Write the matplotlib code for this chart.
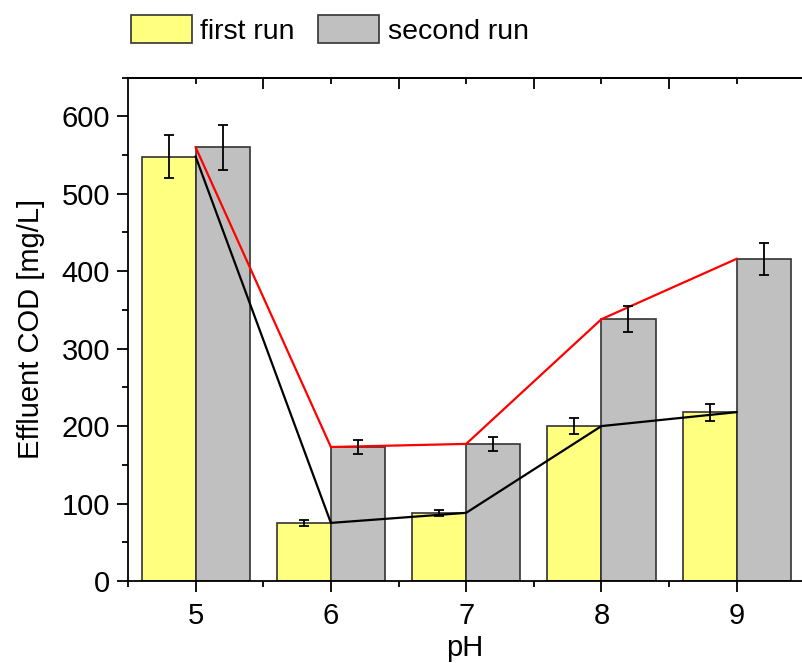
import numpy as np
import matplotlib.pyplot as plt
from matplotlib.ticker import MultipleLocator, FixedLocator

plt.rcParams['font.family'] = ['Liberation Sans', 'DejaVu Sans']

ph = [5, 6, 7, 8, 9]
first_run = [548, 75, 88, 200, 218]
first_err = [28, 4, 4, 10, 11]
second_run = [560, 173, 177, 338, 416]
second_err = [29, 9, 9, 17, 21]

fig = plt.figure(figsize=(8.02, 6.63), dpi=100)
ax = fig.add_axes([0.1596, 0.1237, 0.8404, 0.7593])

x = np.array(ph, dtype=float)
w = 0.4
b1 = ax.bar(x - w / 2, first_run, w, color='#FFFF80', edgecolor='#333333',
            linewidth=1.2, label='first run', zorder=2)
b2 = ax.bar(x + w / 2, second_run, w, color='#C0C0C0', edgecolor='#333333',
            linewidth=1.2, label='second run', zorder=2)
ax.errorbar(x - w / 2, first_run, yerr=first_err, fmt='none', ecolor='black',
            elinewidth=1.3, capsize=3.5, capthick=1.3, zorder=4)
ax.errorbar(x + w / 2, second_run, yerr=second_err, fmt='none', ecolor='black',
            elinewidth=1.3, capsize=3.5, capthick=1.3, zorder=4)

# trend lines through the bar tops at each pH
ax.plot(x, second_run, color='red', lw=1.6, zorder=3)
ax.plot(x, first_run, color='black', lw=1.6, zorder=3)

ax.set_xlim(4.5, 9.483)
ax.set_ylim(0, 650)
ax.spines['right'].set_visible(False)
for s in ['left', 'bottom', 'top']:
    ax.spines[s].set_linewidth(1.3)

ax.xaxis.set_major_locator(FixedLocator(ph))
ax.xaxis.set_minor_locator(FixedLocator([4.5, 5.5, 6.5, 7.5, 8.5]))
ax.yaxis.set_major_locator(MultipleLocator(100))
ax.yaxis.set_minor_locator(MultipleLocator(50))
ax.tick_params(axis='both', which='major', direction='out', length=8, width=1.3,
               labelsize=21)
ax.tick_params(axis='both', which='minor', direction='out', length=4, width=1.3)
ax.tick_params(axis='x', pad=7)
ax.tick_params(axis='y', pad=5)

top = ax.secondary_xaxis('top')
top.xaxis.set_major_locator(FixedLocator([5.5, 6.5, 7.5, 8.5]))
top.xaxis.set_minor_locator(FixedLocator(ph))
top.tick_params(which='major', direction='in', length=8, width=1.3, labeltop=False)
top.tick_params(which='minor', direction='in', length=4, width=1.3)
top.spines['top'].set_linewidth(1.3)

ax.set_xlabel('pH', fontsize=21, labelpad=3)
ax.set_ylabel('Effluent COD [mg/L]', fontsize=21, labelpad=12)

fig.legend(handles=[b1, b2], loc='center left', bbox_to_anchor=(0.163, 0.955),
           ncol=2, frameon=False, fontsize=20.5, handlelength=2.15, handleheight=1.15,
           handletextpad=0.3, columnspacing=0.8, borderpad=0, borderaxespad=0)

fig.savefig('out.png', dpi=100)
